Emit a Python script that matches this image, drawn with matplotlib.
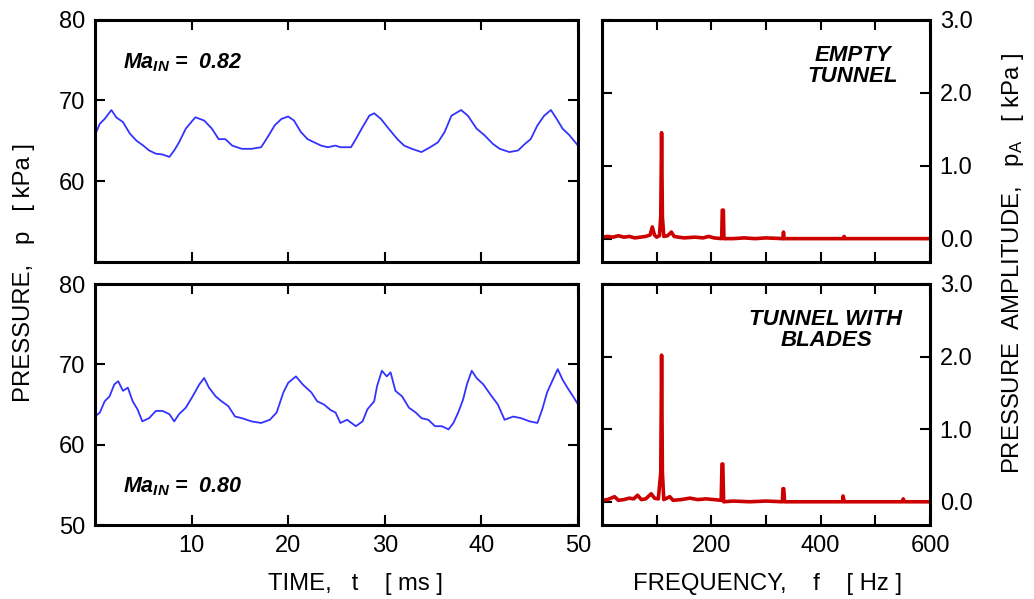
import matplotlib
matplotlib.use("Agg")
import matplotlib.pyplot as plt
import numpy as np

plt.rcParams['font.family'] = ['Liberation Sans', 'DejaVu Sans']
plt.rcParams['mathtext.fontset'] = 'custom'
plt.rcParams['mathtext.it'] = 'Liberation Sans:italic:bold'
plt.rcParams['mathtext.rm'] = 'Liberation Sans'

# ---------------- data ----------------
time_top = [0.0, 0.5, 1.0, 1.7, 2.2, 2.9, 3.6, 4.3, 5.0, 5.6, 6.3, 7.0, 7.7, 8.2, 8.7,
            9.4, 10.1, 10.4, 11.3, 12.1, 12.8, 13.5, 14.2, 15.2, 16.2, 17.2, 17.9, 18.6,
            19.3, 20.0, 20.6, 21.3, 22.0, 22.7, 23.4, 24.1, 24.9, 25.4, 26.5, 27.0, 27.7,
            28.4, 28.9, 29.6, 30.4, 31.3, 32.0, 32.8, 33.8, 34.7, 35.5, 36.2, 36.9, 37.9,
            38.6, 39.5, 40.3, 41.2, 41.9, 42.9, 43.8, 44.5, 45.1, 45.8, 46.5, 47.2, 47.9,
            48.4, 49.1, 50.0]
p_top = [65.7, 67.1, 67.7, 68.8, 67.9, 67.3, 65.9, 65.0, 64.4, 63.8, 63.4, 63.3, 63.0,
         63.8, 64.8, 66.5, 67.5, 67.9, 67.5, 66.5, 65.2, 65.2, 64.4, 64.0, 64.0, 64.2,
         65.5, 66.9, 67.7, 68.0, 67.5, 66.1, 65.2, 64.8, 64.4, 64.2, 64.4, 64.2, 64.2,
         65.2, 66.7, 68.1, 68.4, 67.7, 66.5, 65.2, 64.4, 64.0, 63.6, 64.2, 64.8, 66.1,
         68.1, 68.8, 68.1, 66.5, 65.7, 64.6, 64.0, 63.6, 63.8, 64.6, 65.2, 66.9, 68.1,
         68.8, 67.5, 66.5, 65.7, 64.4]

time_bot = [0.0, 0.5, 1.0, 1.5, 2.0, 2.4, 2.9, 3.4, 3.9, 4.4, 4.9, 5.6, 6.3, 7.0, 7.7,
            8.2, 8.7, 9.4, 10.1, 10.8, 11.3, 11.8, 12.5, 13.1, 13.8, 14.5, 15.2, 16.2,
            17.2, 18.1, 18.8, 19.5, 20.0, 20.8, 21.5, 22.4, 23.0, 23.7, 24.4, 24.9, 25.4,
            26.1, 27.0, 27.7, 28.2, 28.9, 29.2, 29.7, 30.2, 30.6, 31.1, 31.8, 32.5, 33.2,
            33.8, 34.5, 35.2, 35.9, 36.6, 37.1, 37.6, 38.1, 38.5, 39.0, 39.5, 40.2, 40.9,
            41.7, 42.4, 43.3, 44.1, 45.0, 45.8, 46.3, 46.8, 47.4, 47.9, 48.4, 48.9, 49.6,
            50.0]
p_bot = [63.5, 64.0, 65.4, 66.0, 67.5, 67.9, 66.7, 67.1, 65.4, 64.4, 62.9, 63.3, 64.2,
         64.2, 63.8, 62.9, 63.8, 64.6, 66.0, 67.5, 68.3, 67.1, 66.0, 65.4, 64.8, 63.5,
         63.3, 62.9, 62.7, 63.1, 64.0, 66.5, 67.7, 68.5, 67.5, 66.5, 65.4, 65.0, 64.3,
         64.0, 62.7, 63.1, 62.3, 62.9, 64.4, 65.4, 67.3, 69.2, 68.5, 69.0, 66.7, 66.0,
         64.6, 64.0, 63.3, 63.1, 62.3, 62.3, 61.9, 62.7, 64.0, 65.6, 67.5, 69.2, 68.3,
         67.5, 66.3, 65.0, 63.1, 63.5, 63.3, 62.9, 62.7, 64.4, 66.5, 68.1, 69.4, 68.1,
         67.1, 65.8, 65.0]

freq_top = [0, 10, 20, 30, 40, 50, 60, 70, 80, 88, 92, 96, 100, 105, 107.5, 109, 110.5,
            113, 120, 127, 132, 140, 150, 170, 185, 195, 205, 219, 220, 222, 223, 240,
            260, 280, 300, 331, 332, 333, 360, 400, 442, 443, 444, 480, 520, 560, 600]
amp_top = [0.02, 0.03, 0.02, 0.04, 0.02, 0.03, 0.01, 0.02, 0.03, 0.05, 0.16, 0.05, 0.02,
           0.04, 0.30, 1.45, 0.30, 0.03, 0.04, 0.09, 0.03, 0.02, 0.01, 0.02, 0.01, 0.03,
           0.01, 0.00, 0.39, 0.39, 0.00, 0.00, 0.01, 0.00, 0.01, 0.00, 0.09, 0.00, 0.00,
           0.00, 0.00, 0.03, 0.00, 0.00, 0.00, 0.00, 0.00]

freq_bot = [0, 10, 23, 30, 40, 50, 58, 65, 72, 80, 90, 96, 103, 107.5, 109, 110.5, 113,
            124, 130, 145, 161, 175, 190, 205, 218, 219.5, 221, 222.5, 240, 270, 300,
            330, 331, 332.5, 334, 380, 420, 440, 441, 443, 500, 550, 551, 553, 600]
amp_bot = [0.02, 0.03, 0.07, 0.02, 0.03, 0.05, 0.04, 0.09, 0.03, 0.04, 0.11, 0.05, 0.04,
           0.40, 2.02, 0.40, 0.03, 0.07, 0.02, 0.03, 0.05, 0.03, 0.04, 0.03, 0.02, 0.52,
           0.52, 0.00, 0.01, 0.00, 0.01, 0.00, 0.18, 0.18, 0.00, 0.00, 0.00, 0.00, 0.08,
           0.00, 0.00, 0.00, 0.04, 0.00, 0.00]

time_ticks = [10, 20, 30, 40, 50]
freq_ticks = [100, 200, 300, 400, 500, 600]
freq_labels = ['', '200', '', '400', '', '600']
p_ticks = [50, 60, 70, 80]
amp_ticks = [0.0, 1.0, 2.0, 3.0]

# ---------------- figure ----------------
W, H = 1034, 599
fig = plt.figure(figsize=(W / 100, H / 100), dpi=100)

def ax_rect(x0, y0, x1, y1):
    return [x0 / W, 1 - y1 / H, (x1 - x0) / W, (y1 - y0) / H]

ax_tl = fig.add_axes(ax_rect(95, 19.5, 578, 262))
ax_bl = fig.add_axes(ax_rect(95, 284, 578, 525))
ax_tr = fig.add_axes(ax_rect(602, 19.5, 930, 262))
ax_br = fig.add_axes(ax_rect(602, 284, 930, 525))

blue = '#3333ff'
red = '#cc0000'
FS_TICK = 17
FS_LAB = 17.2
FS_ANN = 16

for ax in (ax_tl, ax_bl, ax_tr, ax_br):
    for s in ax.spines.values():
        s.set_linewidth(2.2)
    ax.tick_params(direction='in', length=7, width=1.5, top=True, right=True,
                   labelsize=FS_TICK, pad=7)

ax_tl.plot(time_top, p_top, color=blue, lw=1.3)
ax_bl.plot(time_bot, p_bot, color=blue, lw=1.3)
for ax in (ax_tl, ax_bl):
    ax.set_xlim(0, 50)
    ax.set_ylim(50, 80)
    ax.set_xticks(time_ticks)
    ax.set_yticks(p_ticks)
ax_tl.set_yticklabels(['', '60', '70', '80'])
ax_tl.set_xticklabels([])
ax_bl.set_yticklabels([str(v) for v in p_ticks])
ax_bl.set_xticklabels([str(v) for v in time_ticks])

ax_tr.plot(freq_top, amp_top, color=red, lw=2.6, solid_joinstyle='round',
           solid_capstyle='round')
ax_br.plot(freq_bot, amp_bot, color=red, lw=2.6, solid_joinstyle='round',
           solid_capstyle='round')
for ax in (ax_tr, ax_br):
    ax.set_xlim(0, 600)
    ax.set_ylim(-0.32, 3.0)
    ax.set_xticks(freq_ticks)
    ax.set_yticks(amp_ticks)
    ax.set_yticklabels(['%.1f' % v for v in amp_ticks])
    ax.tick_params(labelleft=False, labelright=True)
ax_tr.set_xticklabels([])
ax_br.set_xticklabels(freq_labels)

# annotations
ax_tl.text(0.058, 0.80, r'$Ma_{IN}$ =  0.82', transform=ax_tl.transAxes,
           fontsize=15.5, fontweight='bold', fontstyle='italic', va='baseline')
ax_bl.text(0.058, 0.137, r'$Ma_{IN}$ =  0.80', transform=ax_bl.transAxes,
           fontsize=15.5, fontweight='bold', fontstyle='italic', va='baseline')
ax_tr.text(0.765, 0.81, 'EMPTY\nTUNNEL', transform=ax_tr.transAxes, fontsize=FS_ANN,
           fontweight='bold', fontstyle='italic', ha='center', va='center',
           multialignment='center', linespacing=1.0)
ax_br.text(0.683, 0.81, 'TUNNEL WITH\nBLADES', transform=ax_br.transAxes, fontsize=FS_ANN,
           fontweight='bold', fontstyle='italic', ha='center', va='center',
           multialignment='center', linespacing=1.0)

# axis labels
fig.text(355 / W, 1 - 590 / H, 'TIME,   t    [ ms ]', fontsize=FS_LAB,
         ha='center', va='baseline')
fig.text(768 / W, 1 - 590 / H, 'FREQUENCY,    f    [ Hz ]', fontsize=FS_LAB,
         ha='center', va='baseline')
fig.text(24 / W, 1 - 273 / H, 'PRESSURE,   p   [ kPa ]', fontsize=FS_LAB,
         ha='center', va='center', rotation=90)
fig.text(1013 / W, 1 - 264 / H, r'PRESSURE  AMPLITUDE,   $\mathrm{p}_{\mathrm{A}}$   [ kPa ]',
         fontsize=FS_LAB, ha='center', va='center', rotation=90)

fig.savefig('out.png', dpi=100)
